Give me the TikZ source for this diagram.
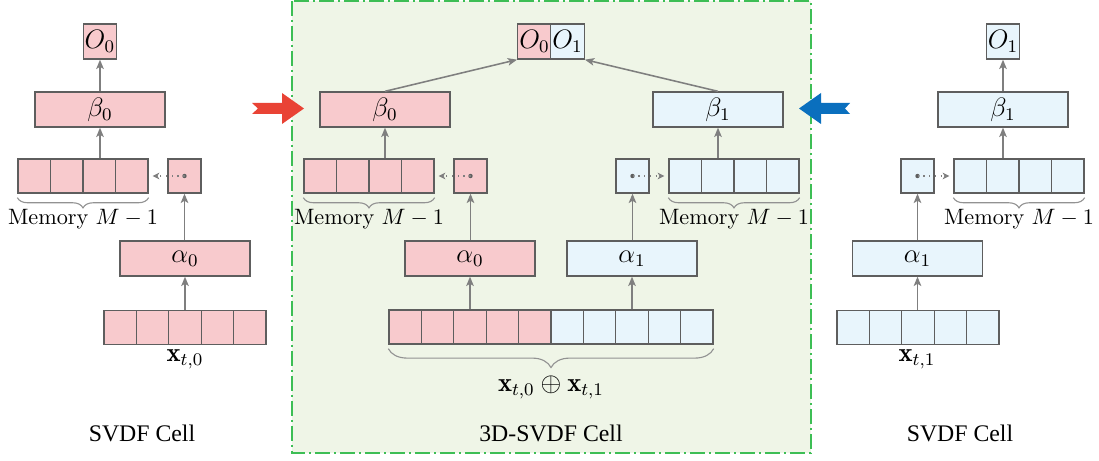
\documentclass[tikz,border=0pt]{standalone}
\usepackage{fontspec}
\newfontfamily\timesf{Liberation Serif}
\usetikzlibrary{arrows.meta,decorations.pathreplacing}
\definecolor{pinkf}{HTML}{F8CACD}
\definecolor{bluef}{HTML}{E8F5FC}
\definecolor{edgec}{HTML}{5E5E5E}
\definecolor{arrc}{HTML}{7F7F7F}
\definecolor{greenf}{HTML}{EFF5E7}
\definecolor{greenl}{HTML}{3DBE55}
\definecolor{redarr}{HTML}{E94335}
\definecolor{bluearr}{HTML}{0A6FBE}
\begin{document}
\begin{tikzpicture}[x=0.45pt,y=-0.45pt,
  box/.style={draw=edgec, line width=0.6pt, inner sep=0pt, font=\large},
  pk/.style={box, fill=pinkf},
  bl/.style={box, fill=bluef},
  wide/.style={minimum width=130*0.45pt, minimum height=35*0.45pt},
  obox/.style={minimum width=33.5*0.45pt, minimum height=35*0.45pt},
  sbox/.style={minimum width=33*0.45pt, minimum height=34*0.45pt},
  cell/.style={minimum width=32.45*0.45pt, minimum height=34*0.45pt},
  arr/.style={draw=arrc, line width=0.7pt, -{Stealth[length=4.2pt,width=3.4pt,inset=1pt]}},
  dotarr/.style={draw=arrc, dotted, line width=0.6pt, -{Stealth[length=3pt,width=3pt,inset=0.8pt]}},
  brc/.style={draw=arrc!85, line width=0.5pt, decorate, decoration={brace, mirror, amplitude=#1}},
  lbl/.style={anchor=base, inner sep=0pt},
  xlbl/.style={anchor=base, inner sep=0pt, font=\large},
  capl/.style={anchor=base, inner sep=0pt, font=\fontsize{10.7}{12}\timesf},
  dotc/.style={fill=edgec}
]
\useasboundingbox (0,0) rectangle (1099,461);

% green container
\draw[greenl, fill=greenf, line width=0.9pt, dash pattern=on 6.75pt off 1.8pt on 0.9pt off 1.8pt] (292,1) rectangle (811,453);

%%%%%%%% Left SVDF cell
\node[pk,obox] (LO) at (100,41.5) {$O_0$};
\node[pk,wide] (Lb) at (100,109.5) {$\beta_0$};
\foreach \i in {0,...,3} \node[pk,cell] (Lm\i) at ({34.25+32.5*\i},176) {};
\node[pk,sbox] (Ls) at (184.5,176) {};
\node[pk,wide] (La) at (185,258.5) {$\alpha_0$};
\foreach \i in {0,...,4} \node[pk,cell] (Lx\i) at ({120.2+32.4*\i},327.5) {};
\draw[arr] (Lb.south |- Lm2.north) -- (Lb.south);
\draw[arr] (Lb.north) -- (LO.south);
\draw[arr] (La.north -| Ls.south) -- (Ls.south);
\draw[arr] (Lx2.north) -- (La.south);
\fill[dotc] (Ls.center) circle (2.2);
\draw[dotarr, shorten >=1.8pt] (Ls.center) -- (Ls.center -| Lm3.east);
\draw[brc=4.6pt] (Lm0.south west) ++(0,4) coordinate (Lbr1) -- (Lm3.south east |- Lbr1);
\node[lbl] (Lmem) at (83,225) {Memory $M-1$};
\node[xlbl] (Lxl) at (185,362) {$\mathbf{x}_{t,0}$};
\node[capl] (Lcap) at (142,442) {SVDF Cell};

%%%%%%%% Middle 3D-SVDF cell
\node[pk,obox] (MO0) at (534.5,41.5) {$O_0$};
\node[bl,obox] (MO1) at (567.5,41.5) {$O_1$};
\node[pk,wide] (Mb0) at (385,109.5) {$\beta_0$};
\node[bl,wide] (Mb1) at (718,109.5) {$\beta_1$};
\foreach \i in {0,...,3} \node[pk,cell] (Mm\i) at ({320.25+32.5*\i},176) {};
\foreach \i in {0,...,3} \node[bl,cell] (Mn\i) at ({685.25+32.5*\i},176) {};
\node[pk,sbox] (Ms0) at (470.5,176) {};
\node[bl,sbox] (Ms1) at (632.5,176) {};
\node[pk,wide] (Ma0) at (470,258.5) {$\alpha_0$};
\node[bl,wide] (Ma1) at (632,258.5) {$\alpha_1$};
\foreach \i in {0,...,4} \node[pk,cell] (Mx\i) at ({405.2+32.4*\i},327) {};
\foreach \i in {5,...,9} \node[bl,cell] (Mx\i) at ({405.2+32.4*\i},327) {};
\draw[arr] (Mb0.north) -- (MO0.south west);
\draw[arr] (Mb1.north) -- (MO1.south east);
\draw[arr] (Mb0.south |- Mm2.north) -- (Mb0.south);
\draw[arr] (Mb1.south |- Mn1.north) -- (Mb1.south);
\draw[arr] (Ma0.north -| Ms0.south) -- (Ms0.south);
\draw[arr] (Ma1.north -| Ms1.south) -- (Ms1.south);
\draw[arr] (Ma0.south |- Mx2.north) -- (Ma0.south);
\draw[arr] (Ma1.south |- Mx7.north) -- (Ma1.south);
\fill[dotc] (Ms0.center) circle (2.2);
\fill[dotc] (Ms1.center) circle (2.2);
\draw[dotarr, shorten >=1.8pt] (Ms0.center) -- (Ms0.center -| Mm3.east);
\draw[dotarr, shorten >=1.8pt] (Ms1.center) -- (Ms1.center -| Mn0.west);
\draw[brc=4.6pt] (Mm0.south west) ++(0,4) coordinate (Mbr1) -- (Mm3.south east |- Mbr1);
\draw[brc=4.6pt] (Mn0.south west) ++(0,4) coordinate (Mbr2) -- (Mn3.south east |- Mbr2);
\draw[brc=8.5pt] (Mx0.south west) ++(0,4) coordinate (Mbr3) -- (Mx9.south east |- Mbr3);
\node[lbl] (Mmem0) at (369,225) {Memory $M-1$};
\node[lbl] (Mmem1) at (734,225) {Memory $M-1$};
\node[xlbl] (Mxl) at (551,392) {$\mathbf{x}_{t,0}\oplus\mathbf{x}_{t,1}$};
\node[capl] (Mcap) at (551,442) {3D-SVDF Cell};

%%%%%%%% Right SVDF cell
\node[bl,obox] (RO) at (1003,41.5) {$O_1$};
\node[bl,wide] (Rb) at (1003,109.5) {$\beta_1$};
\foreach \i in {0,...,3} \node[bl,cell] (Rm\i) at ({970.25+32.5*\i},176) {};
\node[bl,sbox] (Rs) at (917.5,176) {};
\node[bl,wide] (Ra) at (917.5,258.5) {$\alpha_1$};
\foreach \i in {0,...,4} \node[bl,cell] (Rx\i) at ({853.2+32.4*\i},327.5) {};
\draw[arr] (Rb.south |- Rm1.north) -- (Rb.south);
\draw[arr] (Rb.north) -- (RO.south);
\draw[arr] (Ra.north -| Rs.south) -- (Rs.south);
\draw[arr] (Ra.south |- Rx2.north) -- (Ra.south);
\fill[dotc] (Rs.center) circle (2.2);
\draw[dotarr, shorten >=1.8pt] (Rs.center) -- (Rs.center -| Rm0.west);
\draw[brc=4.6pt] (Rm0.south west) ++(0,4) coordinate (Rbr1) -- (Rm3.south east |- Rbr1);
\node[lbl] (Rmem) at (1019,225) {Memory $M-1$};
\node[xlbl] (Rxl) at (917,362) {$\mathbf{x}_{t,1}$};
\node[capl] (Rcap) at (960,442) {SVDF Cell};

%%%%%%%% fat arrows
\fill[redarr] (252,103) -- (282,103) -- (282,93) -- (304,108.5) -- (282,124) -- (282,114) -- (252,114) -- (258,108.5) -- cycle;
\fill[bluearr] (850,103) -- (821,103) -- (821,93) -- (799,108.5) -- (821,124) -- (821,114) -- (850,114) -- (845,108.5) -- cycle;
\end{tikzpicture}
\end{document}
